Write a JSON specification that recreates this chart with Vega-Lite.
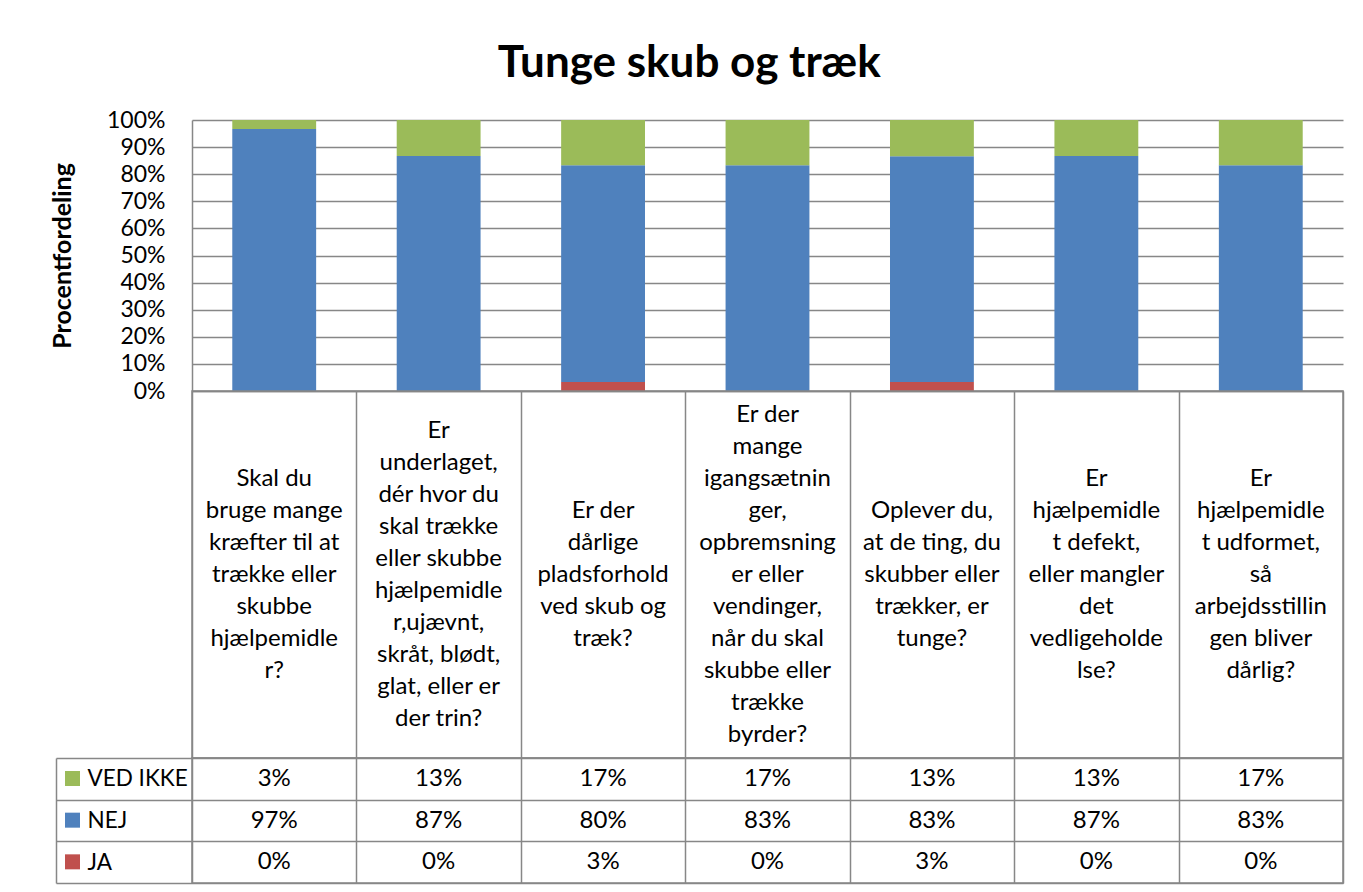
{
  "$schema": "https://vega.github.io/schema/vega-lite/v6.json",
  "padding": {"left": 50, "top": 42, "right": 20, "bottom": 8},
  "background": "white",
  "title": {"text": "Tunge skub og træk", "fontSize": 44, "font": "Lato", "fontWeight": "bold", "color": "black", "anchor": "middle", "offset": 23, "dx": -8},
  "config": {
    "font": "Lato",
    "view": {"stroke": null},
    "concat": {"spacing": 0}
  },
  "data": {
    "values": [
      {"q": "Skal du\nbruge mange\nkræfter til at\ntrække eller\nskubbe\nhjælpemidle\nr?", "svar": "JA", "pct": 0},
      {"q": "Skal du\nbruge mange\nkræfter til at\ntrække eller\nskubbe\nhjælpemidle\nr?", "svar": "NEJ", "pct": 0.9667},
      {"q": "Skal du\nbruge mange\nkræfter til at\ntrække eller\nskubbe\nhjælpemidle\nr?", "svar": "VED IKKE", "pct": 0.0333},
      {"q": "Er\nunderlaget,\ndér hvor du\nskal trække\neller skubbe\nhjælpemidle\nr,ujævnt,\nskråt, blødt,\nglat, eller er\nder trin?", "svar": "JA", "pct": 0},
      {"q": "Er\nunderlaget,\ndér hvor du\nskal trække\neller skubbe\nhjælpemidle\nr,ujævnt,\nskråt, blødt,\nglat, eller er\nder trin?", "svar": "NEJ", "pct": 0.8667},
      {"q": "Er\nunderlaget,\ndér hvor du\nskal trække\neller skubbe\nhjælpemidle\nr,ujævnt,\nskråt, blødt,\nglat, eller er\nder trin?", "svar": "VED IKKE", "pct": 0.1333},
      {"q": "Er der\ndårlige\npladsforhold\nved skub og\ntræk?", "svar": "JA", "pct": 0.0333},
      {"q": "Er der\ndårlige\npladsforhold\nved skub og\ntræk?", "svar": "NEJ", "pct": 0.8},
      {"q": "Er der\ndårlige\npladsforhold\nved skub og\ntræk?", "svar": "VED IKKE", "pct": 0.1667},
      {"q": "Er der\nmange\nigangsætnin\nger,\nopbremsning\ner eller\nvendinger,\nnår du skal\nskubbe eller\ntrække\nbyrder?", "svar": "JA", "pct": 0},
      {"q": "Er der\nmange\nigangsætnin\nger,\nopbremsning\ner eller\nvendinger,\nnår du skal\nskubbe eller\ntrække\nbyrder?", "svar": "NEJ", "pct": 0.8333},
      {"q": "Er der\nmange\nigangsætnin\nger,\nopbremsning\ner eller\nvendinger,\nnår du skal\nskubbe eller\ntrække\nbyrder?", "svar": "VED IKKE", "pct": 0.1667},
      {"q": "Oplever du,\nat de ting, du\nskubber eller\ntrækker, er\ntunge?", "svar": "JA", "pct": 0.0333},
      {"q": "Oplever du,\nat de ting, du\nskubber eller\ntrækker, er\ntunge?", "svar": "NEJ", "pct": 0.8333},
      {"q": "Oplever du,\nat de ting, du\nskubber eller\ntrækker, er\ntunge?", "svar": "VED IKKE", "pct": 0.1333},
      {"q": "Er\nhjælpemidle\nt defekt,\neller mangler\ndet\nvedligeholde\nlse?", "svar": "JA", "pct": 0},
      {"q": "Er\nhjælpemidle\nt defekt,\neller mangler\ndet\nvedligeholde\nlse?", "svar": "NEJ", "pct": 0.8667},
      {"q": "Er\nhjælpemidle\nt defekt,\neller mangler\ndet\nvedligeholde\nlse?", "svar": "VED IKKE", "pct": 0.1333},
      {"q": "Er\nhjælpemidle\nt udformet,\nså\narbejdsstillin\ngen bliver\ndårlig?", "svar": "JA", "pct": 0},
      {"q": "Er\nhjælpemidle\nt udformet,\nså\narbejdsstillin\ngen bliver\ndårlig?", "svar": "NEJ", "pct": 0.8333},
      {"q": "Er\nhjælpemidle\nt udformet,\nså\narbejdsstillin\ngen bliver\ndårlig?", "svar": "VED IKKE", "pct": 0.1667}
    ]
  },
  "bounds": "flush",
  "spacing": 0,
  "resolve": {"scale": {"x": "independent", "y": "independent"}},
  "vconcat": [
    {
      "width": 1151,
      "height": 271,
      "mark": {"type": "bar"},
      "encoding": {
        "x": {"field": "q", "type": "nominal", "sort": null,
              "scale": {"paddingInner": 0.49, "paddingOuter": 0.245},
              "axis": {"labels": false, "ticks": false, "title": null, "domainColor": "#878787", "domainWidth": 1.5}},
        "y": {"field": "pct", "type": "quantitative", "stack": "zero", "scale": {"domain": [0, 1]},
              "axis": {"values": [0, 0.1, 0.2, 0.3, 0.4, 0.5, 0.6, 0.7, 0.8, 0.9, 1], "format": ".0%",
                       "grid": true, "gridColor": "#878787", "gridWidth": 1.5, "ticks": false,
                       "domainColor": "#878787", "domainWidth": 1.5,
                       "labelFontSize": 23, "labelPadding": 27, "labelColor": "black",
                       "title": "Procentfordeling", "titleFontSize": 25, "titleFontWeight": "bold",
                       "titleX": -117, "titleColor": "black"}},
        "color": {"field": "svar", "type": "nominal",
                  "scale": {"domain": ["VED IKKE", "NEJ", "JA"], "range": ["#9BBB59", "#4F81BD", "#C0504D"]},
                  "legend": {"orient": "none", "legendX": -127, "legendY": 651, "title": null,
                             "symbolType": "square", "symbolSize": 225, "symbolStrokeWidth": 0,
                             "labelExpr": "''", "labelFontSize": 1, "rowPadding": 26.67, "padding": 0}},
        "order": {"field": "svar", "sort": "ascending"}
      }
    },
    {
      "width": 1151,
      "height": 367,
      "view": {"stroke": "#878787", "strokeWidth": 1.5},
      "transform": [
        {"filter": "datum.svar === 'NEJ'"},
        {"calculate": "length(split(datum.q, '\\n'))", "as": "linjer"}
      ],
      "mark": {"type": "text", "fontSize": 24, "lineBreak": "\n", "lineHeight": 32, "baseline": "middle", "color": "black"},
      "encoding": {
        "x": {"field": "q", "type": "nominal", "sort": null, "scale": {"padding": 0},
              "axis": {"labels": false, "ticks": false, "domain": false, "title": null, "grid": true,
                       "tickBand": "extent", "gridColor": "#878787", "gridWidth": 1.5}},
        "y": {"field": "linjer", "type": "quantitative", "scale": {"domain": [-10.46875, 12.46875], "zero": false, "nice": false}, "axis": null},
        "text": {"field": "q"}
      }
    },
    {
      "width": 1151,
      "height": 125,
      "view": {"stroke": "#878787", "strokeWidth": 1.5},
      "mark": {"type": "text", "fontSize": 24, "color": "black"},
      "encoding": {
        "x": {"field": "q", "type": "nominal", "sort": null, "scale": {"padding": 0},
              "axis": {"labels": false, "ticks": false, "domain": false, "title": null, "grid": true,
                       "tickBand": "extent", "gridColor": "#878787", "gridWidth": 1.5}},
        "y": {"field": "svar", "type": "nominal", "sort": ["VED IKKE", "NEJ", "JA"], "scale": {"padding": 0},
              "axis": {"title": null, "orient": "left", "offset": 136, "tickBand": "extent", "tickSize": -1287,
                       "tickColor": "#878787", "tickWidth": 1.5, "domainColor": "#878787", "domainWidth": 1.5,
                       "labelAlign": "left", "labelPadding": 1256, "labelFontSize": 22.5, "labelColor": "black",
                       "grid": false}},
        "text": {"field": "pct", "type": "quantitative", "format": ".0%"}
      }
    }
  ]
}
